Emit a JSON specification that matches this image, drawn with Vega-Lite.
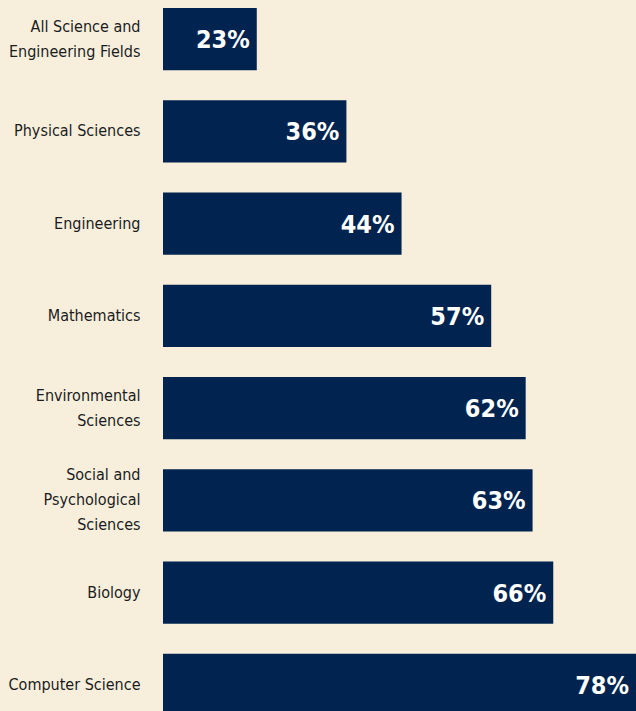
{
  "$schema": "https://vega.github.io/schema/vega-lite/v6.json",
  "autosize": {"type": "none"},
  "padding": {"left": 163, "top": 0, "right": 0, "bottom": 0},
  "width": 473,
  "height": 724,
  "background": "#f7efdc",
  "config": {"view": {"stroke": null}},
  "data": {
    "values": [
      {"field": "All Science and|Engineering Fields", "pct": 23, "label": "23%"},
      {"field": "Physical Sciences", "pct": 36, "label": "36%"},
      {"field": "Engineering", "pct": 44, "label": "44%"},
      {"field": "Mathematics", "pct": 57, "label": "57%"},
      {"field": "Environmental|Sciences", "pct": 62, "label": "62%"},
      {"field": "Social and|Psychological|Sciences", "pct": 63, "label": "63%"},
      {"field": "Biology", "pct": 66, "label": "66%"},
      {"field": "Computer Science", "pct": 78, "label": "78%"}
    ]
  },
  "encoding": {
    "y": {
      "field": "field",
      "type": "nominal",
      "sort": null,
      "scale": {"paddingInner": 0.325, "paddingOuter": 0.087},
      "axis": {
        "title": null,
        "domain": false,
        "ticks": false,
        "labelPadding": 23,
        "labelFont": "DejaVu Sans Condensed, Open Sans, sans-serif",
        "labelFontSize": 16,
        "labelLineHeight": 25,
        "labelBaseline": "middle",
        "labelColor": "#1c1c1c",
        "labelLimit": 200,
        "labelExpr": "split(datum.label, '|')",
        "labelOffset": {
          "condition": [
            {"test": "length(split(datum.value, '|')) == 3", "value": -25},
            {"test": "length(split(datum.value, '|')) == 2", "value": -12.5}
          ],
          "value": 0
        }
      }
    },
    "x": {
      "field": "pct",
      "type": "quantitative",
      "scale": {"domain": [9.4, 78], "zero": false, "nice": false},
      "axis": null
    }
  },
  "layer": [
    {
      "mark": {"type": "bar", "color": "#00244f"},
      "encoding": {"x2": {"datum": 9.4}}
    },
    {
      "mark": {
        "type": "text",
        "align": "right",
        "baseline": "middle",
        "dx": -7,
        "dy": 1,
        "font": "DejaVu Sans Condensed, Open Sans, sans-serif",
        "fontWeight": "bold",
        "fontSize": 25,
        "color": "#ffffff"
      },
      "encoding": {"text": {"field": "label", "type": "nominal"}}
    }
  ]
}
